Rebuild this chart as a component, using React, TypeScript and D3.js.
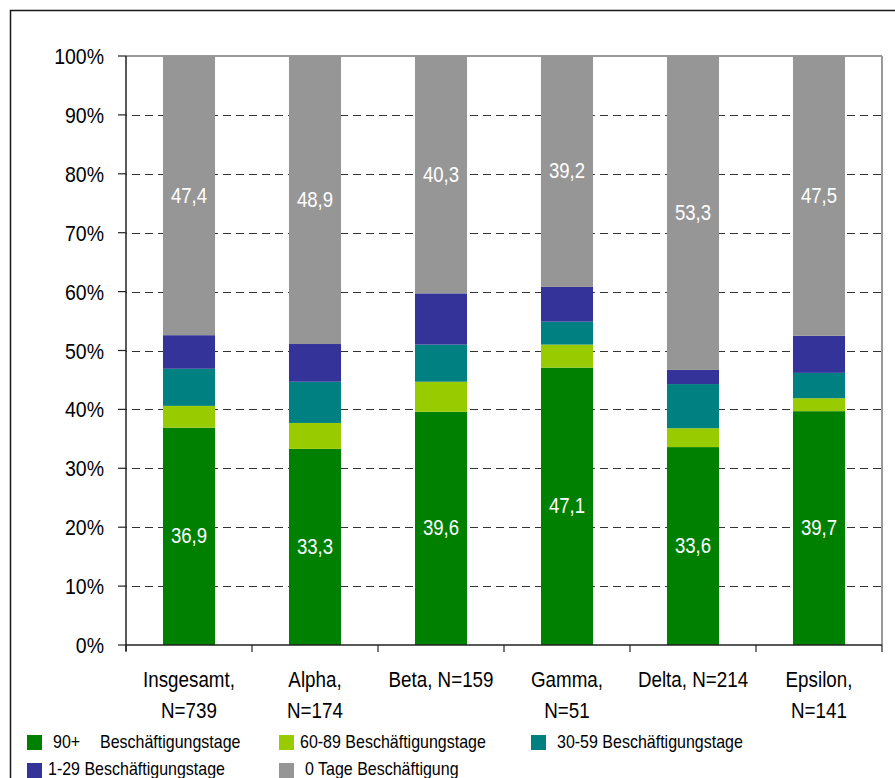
import React from "react";
import * as d3 from "d3";

// Employment-day groups, stacked bottom to top
const categories = ["Insgesamt", "Alpha", "Beta", "Gamma", "Delta", "Epsilon"];
const categoryLines = [
  ["Insgesamt,", "N=739"],
  ["Alpha,", "N=174"],
  ["Beta, N=159"],
  ["Gamma,", "N=51"],
  ["Delta, N=214"],
  ["Epsilon,", "N=141"],
];
const seriesKeys = ["d90", "d60", "d30", "d1", "d0"];
const seriesNames = [
  "90+ Beschäftigungstage",
  "60-89 Beschäftigungstage",
  "30-59 Beschäftigungstage",
  "1-29 Beschäftigungstage",
  "0 Tage Beschäftigung",
];
const seriesColors = ["#008000", "#99cc00", "#008080", "#333399", "#969696"];

const days90 = [36.9, 33.3, 39.6, 47.1, 33.6, 39.7];
const days60 = [3.7, 4.4, 5.1, 3.9, 3.2, 2.2];
const days30 = [6.3, 7.0, 6.3, 3.9, 7.5, 4.3];
const days1 = [5.7, 6.4, 8.7, 5.9, 2.4, 6.3];
const days0 = [47.4, 48.9, 40.3, 39.2, 53.3, 47.5];

const yTicks = [0, 10, 20, 30, 40, 50, 60, 70, 80, 90, 100];

// Series whose values are printed inside the bars
const labelledKeys = ["d90", "d0"];

const W = 895;
const H = 778;
const plot = { left: 126, right: 882, top: 56, bottom: 645 };
const FONT = "'Liberation Sans', Arial, sans-serif";
const SY = 1.15; // slight vertical stretch of all text

type Row = { cat: string; [k: string]: number | string };

const rows: Row[] = categories.map((c, i) => ({
  cat: c,
  d90: days90[i],
  d60: days60[i],
  d30: days30[i],
  d1: days1[i],
  d0: days0[i],
}));

function Txt(props: {
  x: number;
  y: number;
  size: number;
  anchor?: string;
  fill?: string;
  children: React.ReactNode;
}) {
  const { x, y, size, anchor = "start", fill = "#000", children } = props;
  return (
    <text
      transform={`translate(${x},${y}) scale(1,${SY})`}
      fontSize={size}
      fontFamily={FONT}
      textAnchor={anchor}
      fill={fill}
    >
      {children}
    </text>
  );
}

export default function App() {
  const x = d3
    .scaleBand<string>()
    .domain(categories)
    .range([plot.left, plot.right])
    .paddingInner(0.587)
    .paddingOuter(0.2935);
  const y = d3.scaleLinear().domain([0, 100]).range([plot.bottom, plot.top]);

  const stacked = d3.stack<Row>().keys(seriesKeys)(rows as any);
  const step = x.step();
  const boundaries = d3.range(categories.length + 1).map((i) => plot.left + i * step);

  const fmt = (v: number) => v.toFixed(1).replace(".", ",");

  const legendItems = [
    { i: 0, sx: 27, sy: 735, tx: 53, ty: 748 },
    { i: 1, sx: 279, sy: 735, tx: 300, ty: 748 },
    { i: 2, sx: 531, sy: 735, tx: 557, ty: 748 },
    { i: 3, sx: 27, sy: 763, tx: 48, ty: 775 },
    { i: 4, sx: 279, sy: 763, tx: 305, ty: 775 },
  ];

  return (
    <svg
      width={W}
      height={H}
      style={{ position: "absolute", left: 0, top: 0, background: "#fff" }}
    >
      {/* chart frame */}
      <rect x={10.5} y={10.5} width={W + 20} height={H + 20} fill="none" stroke="#1a1a1a" strokeWidth={1.5} />

      {/* dashed gridlines */}
      {yTicks
        .filter((t) => t > 0 && t < 100)
        .map((t) => (
          <line
            key={t}
            x1={plot.left}
            x2={plot.right}
            y1={Math.round(y(t)) + 0.5}
            y2={Math.round(y(t)) + 0.5}
            stroke="#333"
            strokeWidth={1}
            strokeDasharray="8 5"
            strokeDashoffset={-6}
          />
        ))}

      {/* plot area border (top and right) */}
      <line x1={plot.left} x2={plot.right} y1={plot.top} y2={plot.top} stroke="#999" strokeWidth={2} />
      <line x1={plot.right} x2={plot.right} y1={plot.top} y2={plot.bottom} stroke="#999" strokeWidth={2} />

      {/* stacked bars */}
      {stacked.map((s, si) =>
        s.map((d, ci) => (
          <rect
            key={`${si}-${ci}`}
            x={x(categories[ci])}
            width={x.bandwidth()}
            y={y(d[1])}
            height={y(d[0]) - y(d[1])}
            fill={seriesColors[si]}
          />
        ))
      )}

      {/* value labels */}
      {stacked
        .filter((s) => labelledKeys.includes(s.key))
        .map((s) =>
          s.map((d, ci) => (
            <Txt
              key={`${s.key}-${ci}`}
              x={(x(categories[ci]) as number) + x.bandwidth() / 2}
              y={(y(d[0]) + y(d[1])) / 2 + 7}
              size={18.6}
              anchor="middle"
              fill="#fff"
            >
              {fmt(d[1] - d[0])}
            </Txt>
          ))
        )}

      {/* y axis */}
      <line x1={plot.left} x2={plot.left} y1={plot.top} y2={plot.bottom + 6} stroke="#222" strokeWidth={1.5} />
      {yTicks.map((t) => (
        <g key={t}>
          <line x1={plot.left - 8} x2={plot.left} y1={y(t)} y2={y(t)} stroke="#222" strokeWidth={1.2} />
          <Txt x={104} y={y(t) + 8} size={19.5} anchor="end">
            {`${t}%`}
          </Txt>
        </g>
      ))}

      {/* x axis */}
      <line x1={plot.left} x2={plot.right} y1={plot.bottom} y2={plot.bottom} stroke="#222" strokeWidth={1.5} />
      {boundaries.map((b, i) => (
        <line key={i} x1={b} x2={b} y1={plot.bottom} y2={plot.bottom + 7} stroke="#222" strokeWidth={1.2} />
      ))}
      {categoryLines.map((lines, ci) =>
        lines.map((ln, li) => (
          <Txt
            key={`${ci}-${li}`}
            x={(x(categories[ci]) as number) + x.bandwidth() / 2}
            y={687 + li * 31}
            size={18.8}
            anchor="middle"
          >
            {ln}
          </Txt>
        ))
      )}

      {/* legend */}
      {legendItems.map((it) => (
        <g key={it.i}>
          <rect x={it.sx} y={it.sy} width={15} height={15} fill={seriesColors[it.i]} />
          {it.i === 0 ? (
            <text
              transform={`translate(0,${it.ty}) scale(1,${SY})`}
              fontSize={16}
              fontFamily={FONT}
              fill="#000"
            >
              <tspan x={it.tx}>90+</tspan>
              <tspan x={100}>Beschäftigungstage</tspan>
            </text>
          ) : (
            <Txt x={it.tx} y={it.ty} size={16}>
              {seriesNames[it.i]}
            </Txt>
          )}
        </g>
      ))}
    </svg>
  );
}
